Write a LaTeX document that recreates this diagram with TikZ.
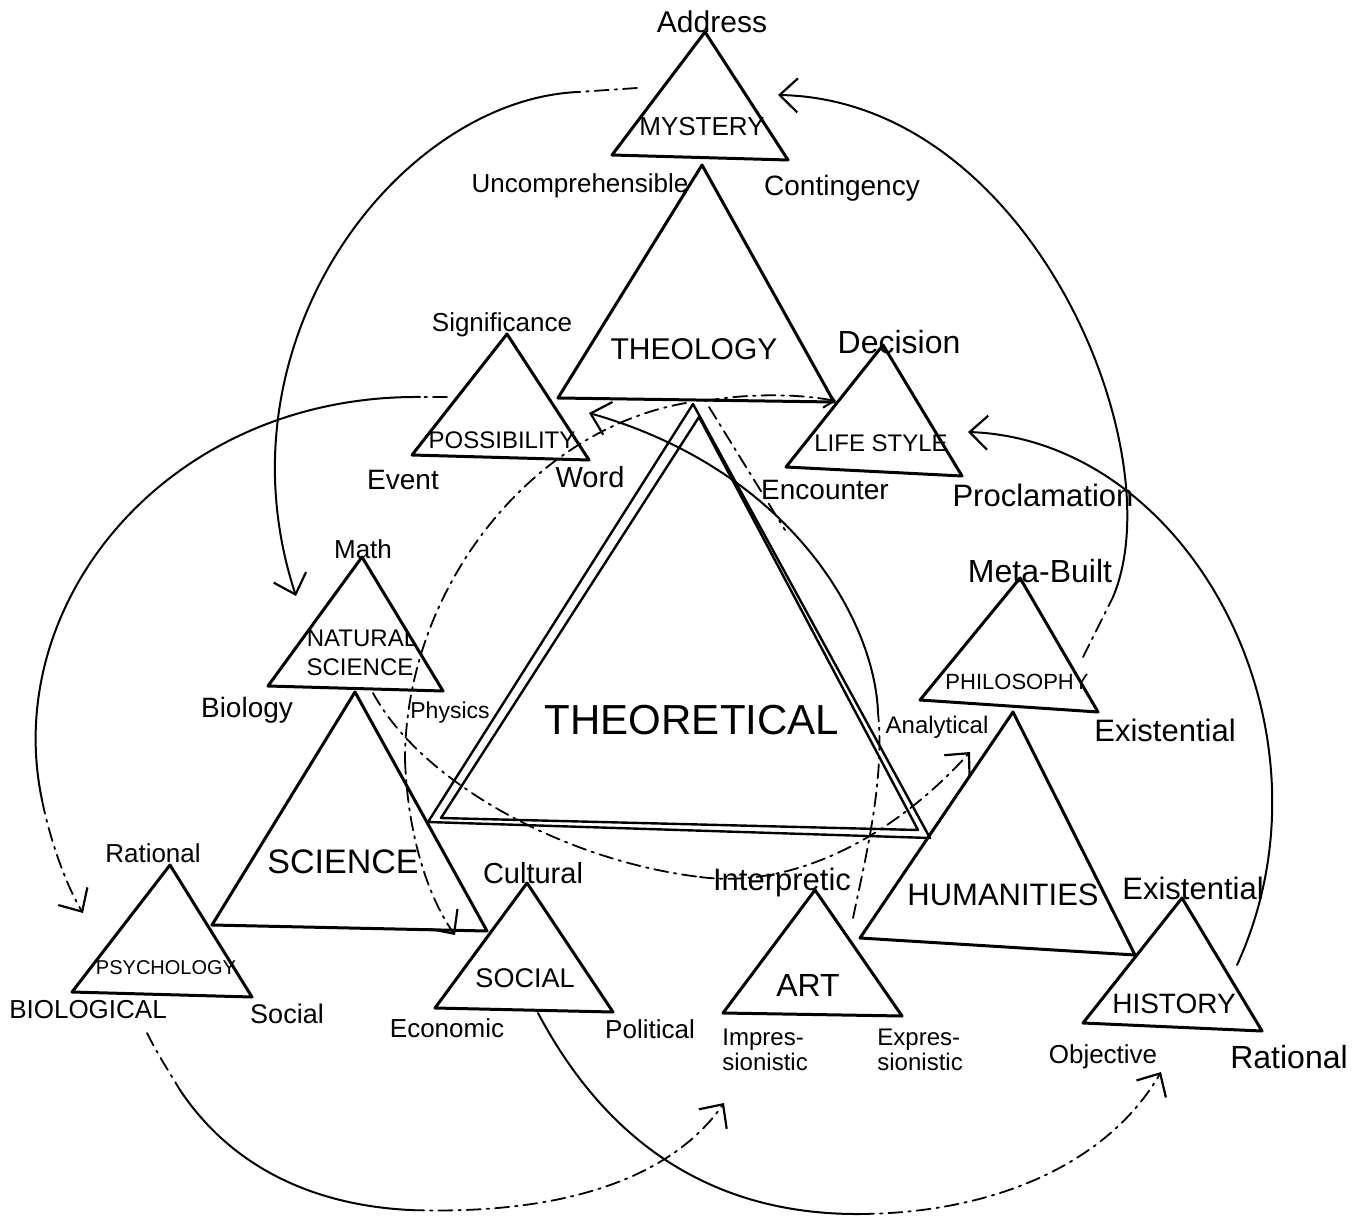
\documentclass[tikz,border=0pt]{standalone}
\usepackage{fontspec}
\setmainfont{Liberation Sans}
\usetikzlibrary{arrows.meta}
\begin{document}
\begin{tikzpicture}[x=0.5pt,y=-0.5pt, line join=round, line cap=round,
  tri/.style={line width=1.5pt},
  dbl/.style={line width=1.2pt},
  arcline/.style={line width=1pt},
  dd/.style={line width=0.9pt, dash pattern=on 7pt off 3pt on 1.2pt off 3pt},
  tipend/.style={-{Straight Barb[length=9pt,width=17pt,line width=1.1pt]}},
  fs/.style={font=\fontsize{#1}{#1}\selectfont},
  every node/.style={inner sep=0pt}]
\useasboundingbox (0,0) rectangle (1368,1218);

% ---------- triangle vertices ----------
\coordinate (mysA) at (705,32);  \coordinate (mysL) at (612,155); \coordinate (mysR) at (788,160);
\coordinate (theA) at (702,165); \coordinate (theL) at (558,398); \coordinate (theR) at (834,402);
\coordinate (posA) at (507,334); \coordinate (posL) at (412,455); \coordinate (posR) at (589,460);
\coordinate (lifA) at (883,345); \coordinate (lifL) at (786,467); \coordinate (lifR) at (962,476);
\coordinate (thoA) at (693,404); \coordinate (thoL) at (428,822); \coordinate (thoR) at (930,838);
\coordinate (thiA) at (699,417); \coordinate (thiL) at (441,818); \coordinate (thiR) at (918,830);
\coordinate (natA) at (362,557); \coordinate (natL) at (268,686); \coordinate (natR) at (443,691);
\coordinate (sciA) at (355,692); \coordinate (sciL) at (212,925); \coordinate (sciR) at (487,931);
\coordinate (psyA) at (170,865); \coordinate (psyL) at (72,992);  \coordinate (psyR) at (252,997);
\coordinate (socA) at (527,883); \coordinate (socL) at (435,1008); \coordinate (socR) at (613,1012);
\coordinate (phiA) at (1020,578); \coordinate (phiL) at (920,700); \coordinate (phiR) at (1098,712);
\coordinate (humA) at (1013,712); \coordinate (humL) at (860,938); \coordinate (humR) at (1135,955);
\coordinate (artA) at (815,890); \coordinate (artL) at (723,1013); \coordinate (artR) at (902,1016);
\coordinate (hisA) at (1182,898); \coordinate (hisL) at (1083,1023); \coordinate (hisR) at (1262,1031);

\foreach \t in {mys,the,pos,lif,nat,sci,psy,soc,phi,hum,art,his}
  \draw[tri] (\t A) -- (\t L) -- (\t R) -- cycle;
\draw[dbl] (thoA) -- (thoL) -- (thoR) -- cycle;
\draw[dbl] (thiA) -- (thiL) -- (thiR) -- cycle;

% ---------- labels ----------
\node[fs=15] (address) at (712,22) {Address};
\node[fs=13] (mystery) at (702,127) {MYSTERY};
\node[fs=13] (uncomp) at (580,186) {Uncomprehensible};
\node[fs=14] (conting) at (842,188) {Contingency};
\node[fs=15] (theology) at (694,349) {THEOLOGY};
\node[fs=13] (signif) at (502,325) {Significance};
\node[fs=16] (decision) at (899,342) {Decision};
\node[fs=12] (possib) at (502,440) {POSSIBILITY};
\node[fs=12] (lifestyle) at (881,443) {LIFE STYLE};
\node[fs=14] (event) at (403,480) {Event};
\node[fs=14.5] (word) at (590,477) {Word};
\node[fs=14] (encounter) at (825,490) {Encounter};
\node[fs=15.5] (proclam) at (1043,495) {Proclamation};
\node[fs=13] (math) at (363,549) {Math};
\node[fs=12] (natural) at (362,638) {NATURAL};
\node[fs=12] (science1) at (360,667) {SCIENCE};
\node[fs=14] (biology) at (247,710) {Biology};
\node[fs=11.5] (physics) at (450,713) {Physics};
\node[fs=21] (theoret) at (692,720) {THEORETICAL};
\node[fs=16] (metabuilt) at (1040,571) {Meta-Built};
\node[fs=11] (philos) at (1017,682) {PHILOSOPHY};
\node[fs=12] (analyt) at (937,727) {Analytical};
\node[fs=15.5] (exist1) at (1165,730) {Existential};
\node[fs=17] (science2) at (343,862) {SCIENCE};
\node[fs=15.5] (humanit) at (1003,895) {HUMANITIES};
\node[fs=13] (rational1) at (153,853) {Rational};
\node[fs=14.5] (cultural) at (533,873) {Cultural};
\node[fs=15.5] (interp) at (782,882) {Interpretic};
\node[fs=15.5] (exist2) at (1193,888) {Existential};
\node[fs=10] (psych) at (166,968) {PSYCHOLOGY};
\node[fs=13.5] (socialT) at (525,978) {SOCIAL};
\node[fs=16] (art) at (808,985) {ART};
\node[fs=14] (history) at (1174,1004) {HISTORY};
\node[fs=13] (biolog) at (88,1010) {BIOLOGICAL};
\node[fs=13.5] (social1) at (287,1014) {Social};
\node[fs=13] (economic) at (447,1028) {Economic};
\node[fs=13] (political) at (650,1029) {Political};
\node[anchor=west, align=left, font=\fontsize{12}{12.5}\selectfont] (impres) at (722,1050) {Impres-\\sionistic};
\node[anchor=west, align=left, font=\fontsize{12}{12.5}\selectfont] (expres) at (877,1050) {Expres-\\sionistic};
\node[fs=13] (objective) at (1103,1057) {Objective};
\node[fs=16] (rational2) at (1289,1057) {Rational};

% ---------- connector end points ----------
\coordinate (A0) at (637,88);   \coordinate (Am) at (578,92);  \coordinate (A1) at (296,596);
\coordinate (B0) at (1083,657); \coordinate (Bm) at (1113,597); \coordinate (B1) at (778,95);
\coordinate (C0) at (1237,965); \coordinate (C1) at (968,432);
\coordinate (D0) at (447,397);  \coordinate (Dm) at (420,397); \coordinate (Dn) at (42,800); \coordinate (D1) at (83,913);
\coordinate (E0) at (147,1033); \coordinate (Em) at (180,1090); \coordinate (En) at (410,1210); \coordinate (E1) at (724,1103);
\coordinate (F0) at (538,1013); \coordinate (Fm) at (860,1214); \coordinate (F1) at (1161,1072);
\coordinate (G0) at (686,403);  \coordinate (Gm) at (405,760); \coordinate (G1) at (455,935);
\coordinate (H0) at (373,693);  \coordinate (Hm) at (700,877); \coordinate (H1) at (970,752);
\coordinate (I0) at (853,918);  \coordinate (Im) at (878,713); \coordinate (I1) at (589,413);
\coordinate (J0) at (705,401);  \coordinate (J1) at (836,401);
\coordinate (K0) at (709,407);  \coordinate (K1) at (785,530);

% A: Mystery -> Natural Science
\draw[dd] (A0) -- (Am);
\draw[arcline, tipend] (Am) .. controls (400,100) and (212,340) .. (A1);
% B: Philosophy -> Mystery
\draw[dd] (B0) -- (Bm);
\draw[arcline, tipend] (Bm) .. controls (1175,450) and (1030,100) .. (B1);
% C: History -> Life Style
\draw[arcline, tipend] (C0) .. controls (1345,730) and (1190,440) .. (C1);
% D: Possibility -> Psychology
\draw[dd] (D0) -- (Dm);
\draw[arcline] (Dm) .. controls (170,395) and (0,600) .. (Dn);
\draw[dd, tipend] (Dn) .. controls (50,840) and (66,885) .. (D1);
% E: Psychology -> Art
\draw[dd] (E0) .. controls (158,1055) and (168,1070) .. (Em);
\draw[arcline] (Em) .. controls (230,1165) and (310,1205) .. (En);
\draw[dd, tipend] (En) .. controls (560,1215) and (670,1180) .. (E1);
% F: Social -> History
\draw[arcline] (F0) .. controls (600,1130) and (700,1215) .. (Fm);
\draw[dd, tipend] (Fm) .. controls (1000,1213) and (1110,1160) .. (F1);
% G: Theology -> Social
\draw[dd] (G0) .. controls (530,430) and (405,590) .. (Gm);
\draw[dd, tipend] (Gm) .. controls (408,840) and (430,900) .. (G1);
% H: Natural Science -> Philosophy
\draw[dd] (H0) .. controls (420,780) and (560,860) .. (Hm);
\draw[dd, tipend] (Hm) .. controls (800,890) and (900,830) .. (H1);
% I: Art -> Possibility
\draw[dd] (I0) .. controls (865,860) and (885,780) .. (Im);
\draw[arcline, tipend] (Im) .. controls (875,620) and (790,470) .. (I1);
% J: Theology -> Life Style
\draw[dd, -{Straight Barb[length=5pt,width=9pt,line width=1pt]}] (J0) .. controls (750,393) and (800,394) .. (J1);
% K: short dash-dot along Theoretical
\draw[dd] (K0) -- (K1);
\end{tikzpicture}
\end{document}
